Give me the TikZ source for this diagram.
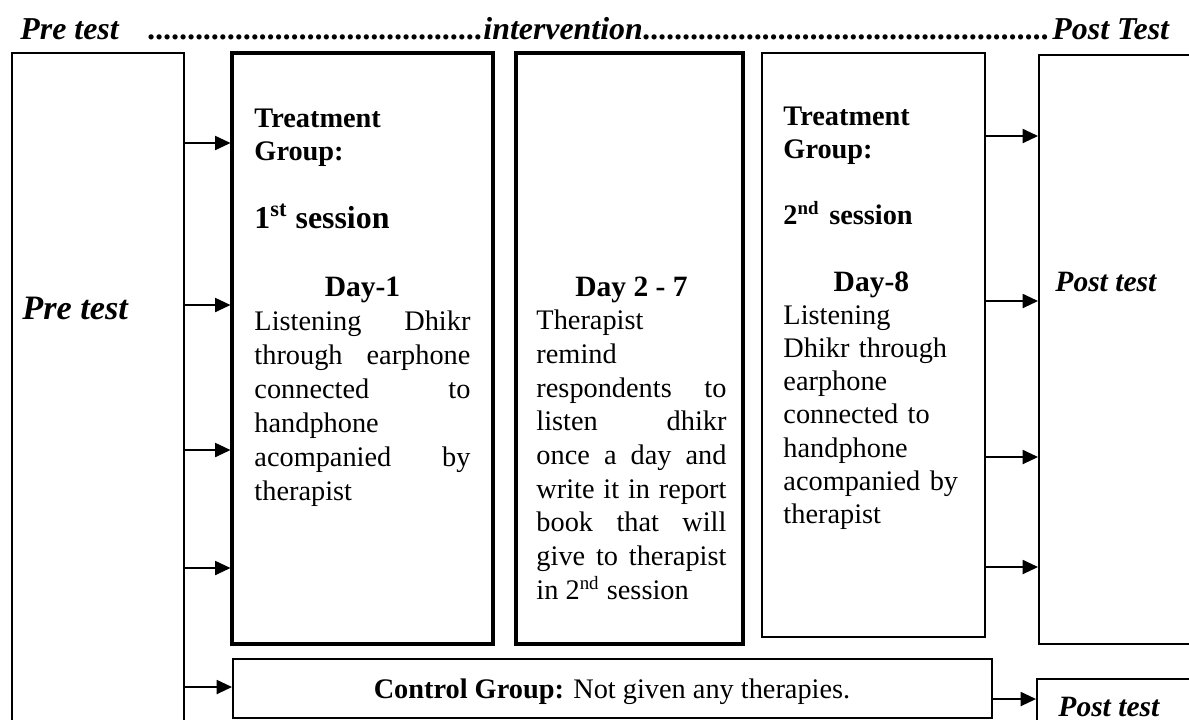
\documentclass[tikz,border=0pt]{standalone}
\usepackage{fontspec}
\setmainfont{Liberation Serif}
\usetikzlibrary{arrows.meta,fit}
\tolerance=10000 \hbadness=10000 \hyphenpenalty=10000
\newcommand{\dotrun}[1]{\hbox to #1{\leaders\hbox{.}\hfill}}
\tikzset{
  thinbox/.style={draw,line width=0.85pt,inner sep=0pt},
  thickbox/.style={draw,line width=1.3pt,inner sep=0pt},
  arr/.style={line width=0.6pt,-{Triangle[length=6.5pt,width=6pt]}},
  headtxt/.style={anchor=base west,inner sep=0pt,font=\fontsize{13.5}{16}\selectfont\bfseries\itshape},
  bodytxt/.style={anchor=base west,inner sep=0pt,font=\fontsize{12}{14.4}\selectfont}
}
\begin{document}
\begin{tikzpicture}[x=0.4237pt,y=-0.4237pt]
\clip (0,0) rectangle (1189,719);
\node[headtxt] (ttlpre) at (20,39) {Pre test};
\node[headtxt] (dotsa) at (148,39) {\dotrun{145pt}};
\node[headtxt] (ttlint) at (483,39) {intervention};
\node[headtxt] (dotsb) at (643,39) {\dotrun{173pt}};
\node[headtxt] (ttlpost) at (1052,39) {Post Test};

\node[thinbox,fit={(12,53) (184,740)}] (pre) {};
\node[thickbox,fit={(232,53) (493,644)}] (t1) {};
\node[thickbox,fit={(516,53) (743,644)}] (day) {};
\node[thinbox,fit={(762,53) (985,637)}] (t2) {};
\node[thinbox,fit={(1039,55) (1200,644)}] (post) {};
\node[thinbox,fit={(233,659) (992,718)}] (ctrl) {};
\node[thinbox,fit={(1037,679) (1200,740)}] (posttwo) {};

\node[headtxt,font=\fontsize{14.5}{16}\selectfont\bfseries\itshape] (pretxt) at (22,319) {Pre test};
\node[bodytxt,text width=91.5pt,align=justify] (tonetxt) at (254,127) {\textbf{Treatment}\\ \textbf{Group:}\\[14.4pt]
  {\fontsize{13.5}{14.4}\selectfont\textbf{1\textsuperscript{st} session}}\\[14.4pt]
  \makebox[\linewidth]{\fontsize{12.5}{14.4}\selectfont\textbf{Day-1}}\\
  Listening Dhikr\linebreak through earphone\linebreak connected to\linebreak handphone\\
  acompanied by\linebreak therapist};
\node[bodytxt,text width=80.5pt,align=justify,font=\fontsize{12}{14.28}\selectfont] (daytxt) at (536,296) {\makebox[\linewidth]{\fontsize{12.5}{14.28}\selectfont\textbf{Day 2 - 7}}\\
  Therapist\\ remind\\ respondents to\linebreak listen dhikr\linebreak once a day and\linebreak
  write it in report\linebreak book that will\linebreak give to therapist\linebreak in 2\textsuperscript{nd} session};
\node[bodytxt,text width=74.5pt,align=left,font=\fontsize{12}{14.07}\selectfont] (ttwotxt) at (783,125) {\textbf{Treatment}\\ \textbf{Group:}\\[14.07pt]
  \textbf{2\textsuperscript{nd} session}\\[14.07pt]
  \makebox[\linewidth]{\fontsize{12.5}{14.07}\selectfont\textbf{Day-8}}\\
  Listening\\ Dhikr through\\ earphone\\ connected to\\ handphone\\ acompanied by\\ therapist};
\node[headtxt,font=\fontsize{12.5}{15}\selectfont\bfseries\itshape] (posttxt) at (1055,291) {Post test};
\node[bodytxt,anchor=base] (ctrltxt) at (612,698) {\textbf{Control Group:} Not given any therapies.};
\node[headtxt,font=\fontsize{12.5}{15}\selectfont\bfseries\itshape] (posttwotxt) at (1058,716) {Post test};

\foreach \y in {143,305,450,568} \draw[arr] (pre.east |- 0,\y) -- (t1.west |- 0,\y);
\draw[arr] (pre.east |- 0,687) -- (ctrl.west |- 0,687);
\foreach \y in {136,301,457,567} \draw[arr] (t2.east |- 0,\y) -- (post.west |- 0,\y);
\draw[arr] (ctrl.east |- 0,699) -- (posttwo.west |- 0,699);
\end{tikzpicture}
\end{document}
